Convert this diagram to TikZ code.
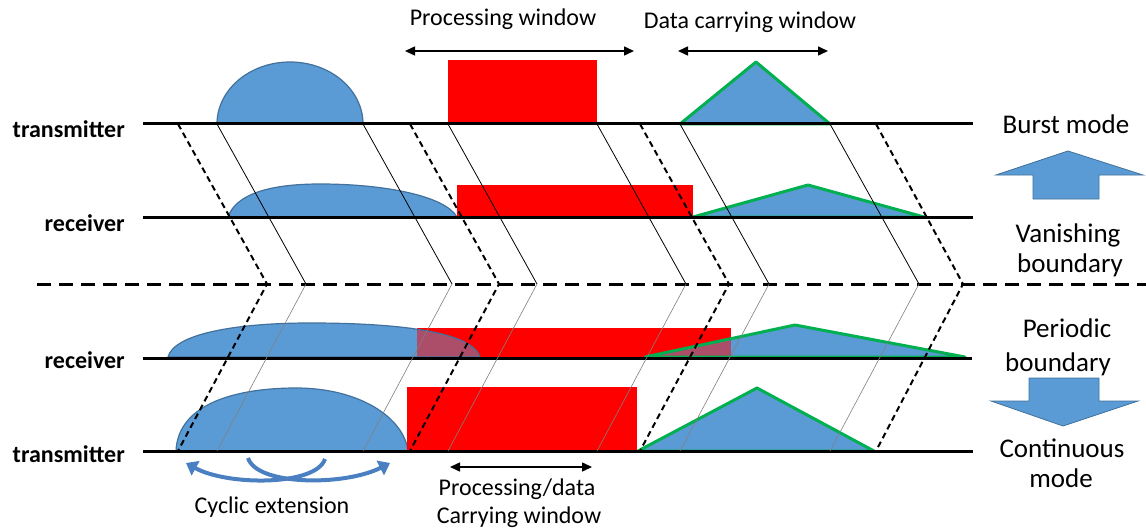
\documentclass[tikz,border=0pt]{standalone}
\usepackage{fontspec}
\setmainfont{Carlito}
\usepackage{tikz}
\usetikzlibrary{arrows.meta}

\definecolor{blobblue}{HTML}{5B9BD5}
\definecolor{blobedge}{HTML}{41719C}
\definecolor{trigreen}{HTML}{00B050}
\definecolor{arcblue}{HTML}{4A80C2}

% paths used twice (bottom receiver, overlap with the red block)
\newcommand{\rxblobpath}{(168,357) .. controls (174,334) and (235,323) .. (310,323) .. controls (400,323) and (472,332) .. (480,357) -- cycle}
\newcommand{\rxtripath}{(645,357) -- (795,325) -- (965,357) -- cycle}

\begin{document}
\begin{tikzpicture}[x=1pt, y=-1pt, >={Triangle[length=10pt,width=9pt]},
  wire/.style={line width=3pt},
  divider/.style={line width=3pt, dash pattern=on 14pt off 8pt},
  ray/.style={line width=0.8pt},
  fray/.style={line width=0.6pt, gray},
  dray/.style={line width=2pt, dash pattern=on 6pt off 4pt},
  blob/.style={fill=blobblue, draw=blobedge, line width=1.2pt},
  tri/.style={fill=blobblue, draw=trigreen, line width=3pt, line join=round},
  blk/.style={fill=red},
  win/.style={<->, line width=1.5pt},
  cyc/.style={-{Triangle[length=11pt,width=16pt]}, line width=4pt, arcblue},
  bigarrow/.style={fill=blobblue, draw=blobedge, line width=0.8pt},
  lbl/.style={font=\fontsize{24}{28}\selectfont\bfseries, anchor=base east, inner sep=0pt},
  note/.style={font=\fontsize{24}{28}\selectfont, anchor=base, inner sep=0pt},
  sidetxt/.style={font=\fontsize{27}{32}\selectfont, anchor=base, inner sep=0pt}]
\fill[white] (0,0) rectangle (1146,532);
\useasboundingbox (0,0) rectangle (1146,532);

% burst mode: transmitter
\draw[blob] (217,124) arc[start angle=180, end angle=0, x radius=73pt, y radius=62pt] -- cycle;
\fill[blk] (448,60) rectangle (597,124);
\draw[tri] (680,124) -- (756,62) -- (830,124) -- cycle;
% burst mode: receiver
\draw[blob] (228,217) .. controls (236,194) and (270,184) .. (320,184) .. controls (385,184) and (445,196) .. (457,217) -- cycle;
\fill[blk] (457,185) rectangle (693,217);
\draw[tri] (693,217) -- (808,185) -- (924,217) -- cycle;

% continuous mode: receiver
\draw[blob] \rxblobpath;
\draw[tri] \rxtripath;
\fill[blk] (417,328) rectangle (731,357);
\begin{scope}
  \clip (417,328) rectangle (731,357);
  \draw[blob, fill opacity=.5] \rxblobpath;
  \draw[tri, fill opacity=.5] \rxtripath;
\end{scope}
% continuous mode: transmitter
\draw[blob] (176,451) .. controls (178,402) and (240,388) .. (296,388) .. controls (360,388) and (404,418) .. (408,451) -- cycle;
\fill[blk] (407,387) rectangle (637,451);
\draw[tri] (638,451) -- (757,388) -- (874,451) -- cycle;

% time axes
\draw[wire] (143,124) -- (973,124); \draw[wire] (143,217) -- (973,217);
\draw[wire] (143,358) -- (972,358); \draw[wire] (143,451) -- (973,451);
\draw[divider] (37,284) -- (1146,284);

% propagation lines
\draw[dray] (178,124) -- (267,284) -- (178,451);
\draw[dray] (410,124) -- (499,284) -- (410,451);
\draw[dray] (640,124) -- (729,284) -- (640,451);
\draw[dray] (876,124) -- (963,284) -- (876,451);
\draw[ray] (217,124) -- (306,284); \draw[fray] (306,284) -- (217,451);
\draw[ray] (363,124) -- (452,284); \draw[fray] (452,284) -- (363,451);
\draw[ray] (448,124) -- (537,284); \draw[fray] (537,284) -- (448,451);
\draw[ray] (597,124) -- (686,284); \draw[fray] (686,284) -- (597,451);
\draw[ray] (680,124) -- (769,284); \draw[fray] (769,284) -- (680,451);
\draw[ray] (830,124) -- (919,284); \draw[fray] (919,284) -- (830,451);

% windows
\node[note] (pw) at (503,26) {Processing window};
\node[note] (dw) at (750,29) {Data carrying window};
\draw[win] (405,51) -- (634,51);
\draw[win] (678,51) -- (828,51);
\draw[win] (450,467) -- (592,467);
\node[note] (pd1) at (517,495) {Processing/data};
\node[note] (pd2) at (519,523) {Carrying window};

% cyclic extension
\draw[cyc] (325,459) .. controls (316,486) and (228,486) .. (186,463);
\draw[cyc] (248,458) .. controls (257,486) and (345,486) .. (390,463);
\node[note] (ce) at (272,513) {Cyclic extension};

% axis labels
\node[lbl] (tx1) at (125,138) {transmitter};
\node[lbl] (rx1) at (125,231) {receiver};
\node[lbl] (rx2) at (125,368) {receiver};
\node[lbl] (tx2) at (125,462) {transmitter};

% modes
\node[sidetxt] (bm) at (1066,134) {Burst mode};
\draw[bigarrow] (1033,199) -- (1099,199) -- (1099,175) -- (1143,175) -- (1068,151) -- (996,175) -- (1033,175) -- cycle;
\node[sidetxt] (vb1) at (1068,242) {Vanishing};
\node[sidetxt] (vb2) at (1070,272) {boundary};
\node[sidetxt] (pb1) at (1067,337) {Periodic};
\node[sidetxt] (pb2) at (1058,371) {boundary};
\draw[bigarrow] (1029,378) -- (1099,378) -- (1099,401) -- (1138,401) -- (1063,426) -- (991,401) -- (1029,401) -- cycle;
\node[sidetxt] (cm1) at (1062,457) {Continuous};
\node[sidetxt] (cm2) at (1061,487) {mode};
\end{tikzpicture}
\end{document}
